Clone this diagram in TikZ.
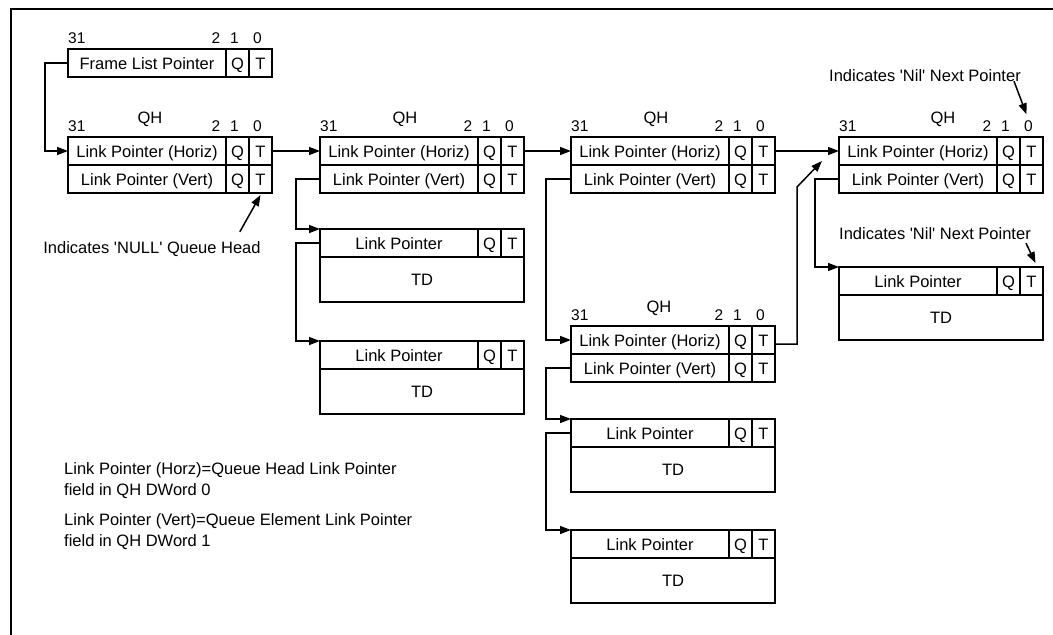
\documentclass[tikz,border=0pt]{standalone}
\usepackage{fontspec}
\setmainfont{Liberation Sans}
\usetikzlibrary{arrows.meta,calc}
\tikzset{
  cell/.style={draw, line width=1.5pt, anchor=north west, inner sep=0pt, outer sep=0pt, text height=12pt, text depth=0pt},
  txt/.style={inner sep=0pt, text height=12pt, text depth=0pt},
  digit/.style={inner sep=0pt, font=\fontsize{15.5}{18}\selectfont, text height=11pt, text depth=0pt},
  conn/.style={line width=1.5pt, -{Triangle[length=11pt,width=8pt]}},
  frame/.style={line width=2.2pt},
}
\newcommand{\fieldrow}[4]{%
  \node[cell, minimum width=158pt, minimum height=#4] (#1) at (#2) {#3};
  \node[cell, minimum width=23pt, minimum height=#4] (#1q) at (#1.north east) {Q};
  \node[cell, minimum width=23pt, minimum height=#4] (#1t) at (#1q.north east) {T};
}
\newcommand{\bitlabels}[1]{%
  \node[digit, anchor=west] (#1b31) at ([yshift=11pt]#1.north west) {31};
  \node[digit] (#1b2) at ([xshift=-10pt,yshift=11pt]#1.north east) {2};
  \node[digit] (#1b1) at ([xshift=-3pt,yshift=11pt]#1q.north) {1};
  \node[digit] (#1b0) at ([xshift=-3pt,yshift=11pt]#1t.north) {0};
}
\newcommand{\qhbox}[3]{%
  \fieldrow{#1h}{#2}{Link Pointer (Horiz)}{28pt}
  \fieldrow{#1v}{#1h.south west}{Link Pointer (Vert)}{28pt}
  \bitlabels{#1h}
  \node[txt] (#1qh) at ([xshift=#3,yshift=20pt]#1h.north west) {QH};
}
\newcommand{\tdbox}[2]{%
  \fieldrow{#1}{#2}{Link Pointer}{28pt}
  \node[cell, minimum width=204pt, minimum height=45pt] (#1d) at (#1.south west) {TD};
}
\newcommand{\sq}{\textquotesingle}
\begin{document}
\begin{tikzpicture}[x=1pt,y=-1pt,font=\fontsize{16.5}{19.8}\selectfont]
\useasboundingbox (0,0) rectangle (1053,635);
\draw[frame] (11,636) -- (11,9) -- (1054,9);

% Frame list pointer
\fieldrow{flp}{68,49}{Frame List Pointer}{28pt}
\bitlabels{flp}

% Queue heads
\qhbox{qh1}{68,137}{82pt}
\qhbox{qh2}{320,137}{85pt}
\qhbox{qh3}{571,137}{85pt}
\qhbox{qh4}{839,137}{104pt}
\qhbox{qh5}{571,326}{88pt}

% Transfer descriptors
\tdbox{td1}{320,229}
\tdbox{td2}{320,341}
\tdbox{td3}{571,419}
\tdbox{td4}{571,530}
\tdbox{td5}{839,267}

% Annotations
\node[txt] (nulltext) at (152,247) {Indicates \sq NULL\sq\ Queue Head};
\node[txt] (nil1) at (925,75) {Indicates \sq Nil\sq\ Next Pointer};
\node[txt] (nil2) at (935,233) {Indicates \sq Nil\sq\ Next Pointer};

\node[txt, anchor=west] (leg1) at (64,468) {Link Pointer (Horz)=Queue Head Link Pointer};
\node[txt, anchor=west] (leg2) at (64,489) {field in QH DWord 0};
\node[txt, anchor=west] (leg3) at (64,519) {Link Pointer (Vert)=Queue Element Link Pointer};
\node[txt, anchor=west] (leg4) at (64,540) {field in QH DWord 1};

% Connectors
\draw[conn] (flp.west) -- ++(-23,0) |- (qh1h.west);
\draw[conn] (qh1ht.east) -- (qh2h.west);
\draw[conn] (qh2ht.east) -- (qh3h.west);
\draw[conn] (qh3ht.east) -- (qh4h.west);
\draw[conn] (qh2v.west) -- ++(-24,0) |- (td1.north west);
\draw[conn] (td1.west) -- ++(-24,0) |- (td2.north west);
\draw[conn] (qh3v.west) -- ++(-25,0) |- (qh5h.west);
\draw[conn] (qh5v.west) -- ++(-25,0) |- (td3.north west);
\draw[conn] (td3.west) -- ++(-25,0) |- (td4.north west);
\draw[conn] (qh4v.west) -- ++(-24,0) |- (td5.north west);
\coordinate (bend) at (797,187);
\draw[conn] ([yshift=-4pt]qh5ht.east) -| (bend) -- ([xshift=-17pt,yshift=4pt]qh4h.south west);

\draw[conn] ([xshift=-21pt,yshift=9pt]nulltext.north east) -- ([yshift=-2pt]qh1vt.south);
\draw[conn] ([xshift=-7pt]nil1.south east) -- ([xshift=-2pt,yshift=6pt]qh4hb0.north);
\draw[conn] ([xshift=-5pt,yshift=-4pt]nil2.south east) -- ([xshift=4pt,yshift=4pt]td5t.north);
\end{tikzpicture}
\end{document}
